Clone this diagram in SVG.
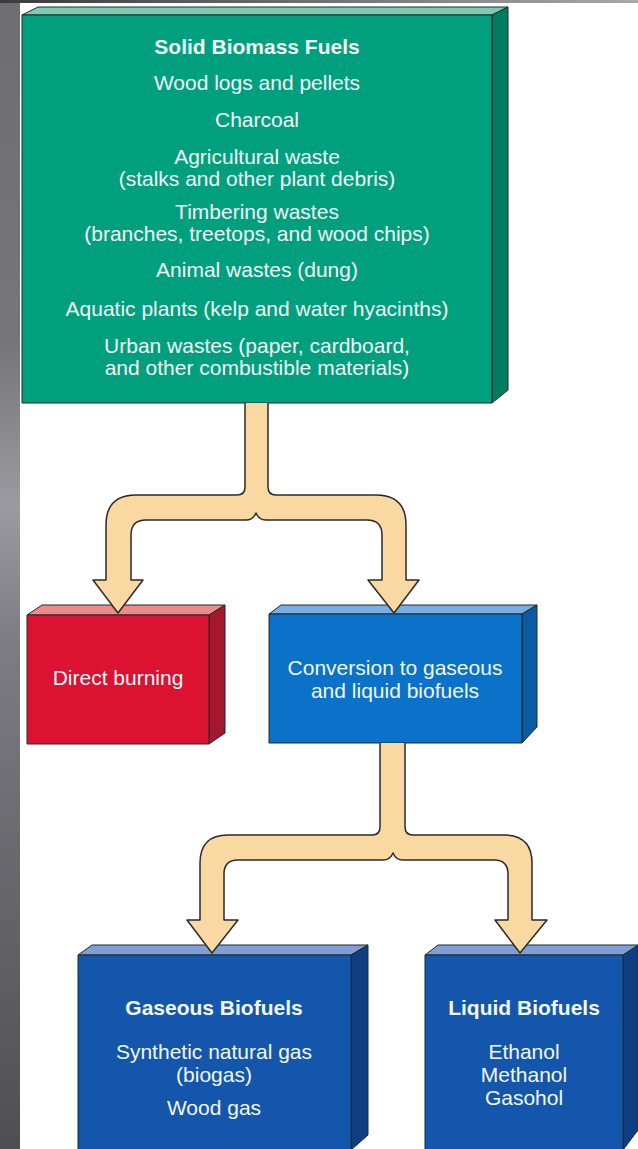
<svg xmlns="http://www.w3.org/2000/svg" width="638" height="1149" viewBox="0 0 638 1149">
<defs>
<linearGradient id="strip" x1="0" y1="0" x2="0" y2="1">
<stop offset="0" stop-color="#6e6e70"/>
<stop offset="0.3" stop-color="#76767a"/>
<stop offset="0.44" stop-color="#9a9aa0"/>
<stop offset="0.56" stop-color="#7c7c82"/>
<stop offset="1" stop-color="#4e4e53"/>
</linearGradient>
<linearGradient id="topband" x1="0" y1="0" x2="1" y2="0">
<stop offset="0" stop-color="#3a3a3a"/>
<stop offset="1" stop-color="#a8a8a8"/>
</linearGradient>
<style>
.edge{stroke:#1d2a2a;stroke-width:1;stroke-linejoin:round}
.gF{fill:#00a07f}.gT{fill:#7fcbb2}.gR{fill:#007d61}
.rF{fill:#db1232}.rT{fill:#ee8a8a}.rR{fill:#a3182c}
.bF{fill:#0b72c9}.bT{fill:#7aaee2}.bR{fill:#0a5ba2}
.dF{fill:#1556ad}.dT{fill:#809fd6}.dR{fill:#0f3f82}
.t{font-family:"Liberation Sans",Arial,sans-serif;font-size:21px;fill:#f2f8f6;text-anchor:middle}
.b{font-weight:bold}
.arrow{fill:#f9d8a1;stroke:#2a2a2a;stroke-width:1.5;stroke-linejoin:round}
</style>
</defs>
<rect width="638" height="1149" fill="#ffffff"/>
<rect x="0" y="0" width="20" height="1149" fill="url(#strip)"/>
<rect x="0" y="0" width="638" height="3" fill="url(#topband)"/>

<g id="solid-biomass">
<polygon class="gT edge" points="22,15 38,7 508,7 492,15"/>
<polygon class="gR edge" points="492,15 508,7 508,390 492,403"/>
<rect class="gF edge" x="22" y="15" width="470" height="388"/>
<text class="t b" x="257" y="54">Solid Biomass Fuels</text>
<text class="t" x="257" y="90">Wood logs and pellets</text>
<text class="t" x="257" y="127">Charcoal</text>
<text class="t" x="257" y="164">Agricultural waste</text>
<text class="t" x="257" y="186">(stalks and other plant debris)</text>
<text class="t" x="257" y="219">Timbering wastes</text>
<text class="t" x="257" y="241">(branches, treetops, and wood chips)</text>
<text class="t" x="257" y="277">Animal wastes (dung)</text>
<text class="t" x="257" y="316">Aquatic plants (kelp and water hyacinths)</text>
<text class="t" x="257" y="353">Urban wastes (paper, cardboard,</text>
<text class="t" x="257" y="375">and other combustible materials)</text>
</g>

<g id="direct-burning">
<polygon class="rT edge" points="27,615 42,605 225,605 209,615"/>
<polygon class="rR edge" points="209,615 225,605 225,733 209,744"/>
<rect class="rF edge" x="27" y="615" width="182" height="129"/>
<text class="t" x="118" y="685">Direct burning</text>
</g>

<g id="conversion">
<polygon class="bT edge" points="269,614 281,605 537,605 522,614"/>
<polygon class="bR edge" points="522,614 537,605 537,727 522,743"/>
<rect class="bF edge" x="269" y="614" width="253" height="129"/>
<text class="t" x="395" y="675">Conversion to gaseous</text>
<text class="t" x="395" y="698">and liquid biofuels</text>
</g>

<g id="gaseous-biofuels">
<polygon class="dT edge" points="78,955 92,945 368,945 351,955"/>
<polygon class="dR edge" points="351,955 368,945 368,1135 351,1150"/>
<rect class="dF edge" x="78" y="955" width="273" height="200"/>
<text class="t b" x="214" y="1015">Gaseous Biofuels</text>
<text class="t" x="214" y="1059">Synthetic natural gas</text>
<text class="t" x="214" y="1082">(biogas)</text>
<text class="t" x="214" y="1115">Wood gas</text>
</g>

<g id="liquid-biofuels">
<polygon class="dT edge" points="425,955 438,945 640,945 623,955"/>
<polygon class="dR edge" points="623,955 638,945 638,1130 623,1150"/>
<rect class="dF edge" x="425" y="955" width="198" height="200"/>
<text class="t b" x="524" y="1015">Liquid Biofuels</text>
<text class="t" x="524" y="1059">Ethanol</text>
<text class="t" x="524" y="1082">Methanol</text>
<text class="t" x="524" y="1105">Gasohol</text>
</g>

<g id="connectors">
<path class="arrow" d="M245 403 L245 487 Q245 495 237 495 L136 495 Q106 495 106 525 L106 580 L93 580 L118 613 L143 580 L131 580 L131 535 Q131 520 146 520 L246 520 Q253 520 256 513 Q259 520 266 520 L367 520 Q382 520 382 535 L382 580 L368 580 L394 613 L419 580 L406 580 L406 525 Q406 495 376 495 L276 495 Q268 495 268 487 L268 403"/>
<path class="arrow" d="M380 743 L380 827 Q380 835 372 835 L228 835 Q200 835 200 863 L200 920 L187 920 L212 953 L238 920 L224 920 L224 874 Q224 860 238 860 L383 860 Q390 860 393 853 Q396 860 403 860 L494 860 Q508 860 508 874 L508 920 L495 920 L520 953 L547 920 L532 920 L532 863 Q532 835 504 835 L413 835 Q405 835 405 827 L405 743"/>
</g>
</svg>
